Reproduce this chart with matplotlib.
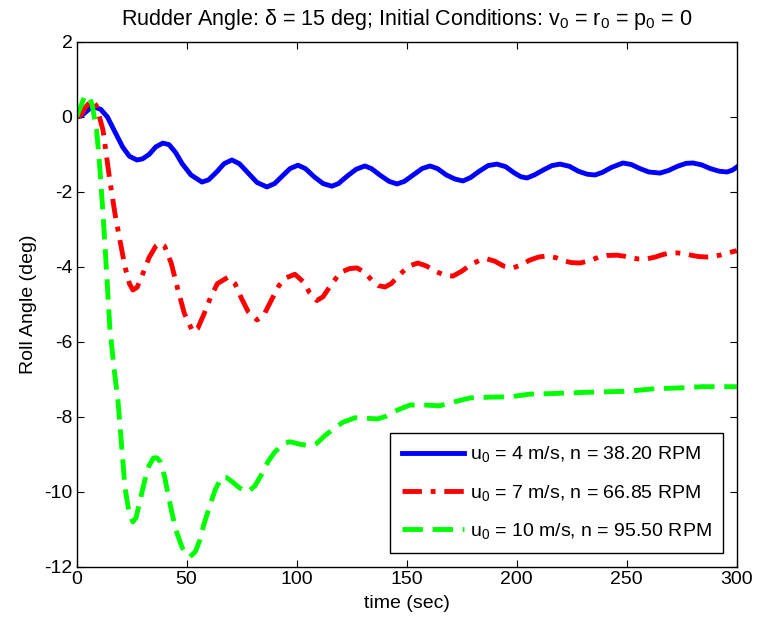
import matplotlib
matplotlib.use("Agg")
import matplotlib.pyplot as plt

plt.rcParams['font.family'] = ['Liberation Sans', 'DejaVu Sans']
plt.rcParams['mathtext.fontset'] = 'custom'
plt.rcParams['mathtext.rm'] = 'Liberation Sans'
plt.rcParams['mathtext.it'] = 'Liberation Sans:italic'
plt.rcParams['axes.unicode_minus'] = False

# u0 = 4 m/s, n = 38.20 RPM
t_4 = [0, 2, 4, 6, 8.3, 11, 14, 17, 21, 24, 27.4, 30, 33, 36, 39.2, 42, 45, 48, 52, 57,
       60, 64, 67, 70.6, 74, 78, 82, 86.5, 90, 94, 97, 100.6, 104, 108, 112, 116, 119,
       123, 127, 131, 134, 138, 142, 145.6, 149, 153, 157, 160.6, 164, 168, 172, 175.6,
       179, 183, 187, 191, 195, 199, 202, 204.7, 208, 212, 216, 219.7, 224, 228, 232,
       235.6, 239, 243, 248.3, 252, 256, 260, 265.1, 269, 273, 277, 280.1, 284, 288, 292,
       295.6, 298, 300]
roll_4 = [0, 0.02, 0.12, 0.22, 0.26, 0.2, 0.0, -0.35, -0.81, -1.05, -1.15, -1.12, -1.0,
          -0.8, -0.7, -0.74, -0.95, -1.25, -1.55, -1.74, -1.68, -1.45, -1.25, -1.15, -1.25,
          -1.5, -1.75, -1.87, -1.78, -1.55, -1.38, -1.29, -1.38, -1.6, -1.78, -1.85, -1.78,
          -1.58, -1.4, -1.31, -1.38, -1.56, -1.72, -1.79, -1.72, -1.55, -1.38, -1.31, -1.38,
          -1.55, -1.66, -1.71, -1.62, -1.45, -1.3, -1.26, -1.33, -1.5, -1.6, -1.63, -1.55,
          -1.42, -1.3, -1.26, -1.32, -1.45, -1.53, -1.55, -1.48, -1.35, -1.23, -1.27, -1.38,
          -1.47, -1.5, -1.43, -1.32, -1.24, -1.23, -1.28, -1.38, -1.45, -1.47, -1.42, -1.34]

# u0 = 7 m/s, n = 66.85 RPM
t_7 = [0, 2, 4, 6.8, 9, 12, 15.1, 17.5, 19.7, 22, 24, 25.6, 27.5, 30, 33, 36, 37.9, 40,
       43, 46, 49, 52.9, 55, 58, 61, 64, 68.8, 72, 75, 78, 82, 85, 88, 92, 95, 99.2, 103,
       106, 109.2, 112, 116, 120, 124, 127.4, 131, 134, 137, 140.1, 143, 147, 151, 155.1,
       159, 163, 167, 171, 175, 179, 183, 186.5, 190, 194, 198.3, 202, 206, 210, 213.8,
       218, 222, 225, 228.8, 233, 237, 241, 245.6, 249, 252, 255, 259.2, 263, 266, 269,
       272.9, 276, 280, 283, 286.5, 290, 293, 296, 300]
roll_7 = [0, 0.05, 0.25, 0.45, 0.3, -0.35, -1.69, -2.6, -3.29, -4.0, -4.45, -4.62, -4.55,
          -4.2, -3.75, -3.45, -3.37, -3.45, -3.9, -4.6, -5.25, -5.74, -5.65, -5.25, -4.8,
          -4.45, -4.28, -4.45, -4.85, -5.2, -5.42, -5.3, -4.95, -4.5, -4.3, -4.2, -4.4, -4.7,
          -4.9, -4.8, -4.45, -4.15, -4.05, -4.03, -4.15, -4.35, -4.5, -4.54, -4.45, -4.2,
          -3.98, -3.9, -3.98, -4.12, -4.22, -4.25, -4.12, -3.95, -3.83, -3.79, -3.85, -3.98,
          -4.03, -3.95, -3.82, -3.74, -3.71, -3.76, -3.85, -3.89, -3.9, -3.84, -3.75, -3.7,
          -3.69, -3.72, -3.76, -3.79, -3.79, -3.74, -3.68, -3.64, -3.63, -3.65, -3.7, -3.73,
          -3.74, -3.72, -3.68, -3.63, -3.57]

# u0 = 10 m/s, n = 95.50 RPM
t_10 = [0, 2, 3.5, 5.1, 7, 9.1, 10.5, 12, 13.5, 15.1, 17, 18.8, 20.5, 22, 24, 25.6, 27,
        29, 31, 33, 35, 36.5, 38, 40, 42, 45, 48, 51.5, 54, 56, 58, 61, 63, 66, 68, 71, 74,
        77.9, 81, 84, 87, 90, 94, 97, 101, 106, 109, 113, 117, 121, 126.5, 131, 137, 141,
        146, 151.5, 158, 165, 172, 178.8, 188, 197, 206, 218, 232, 251, 261.6, 275.2,
        284.3, 300]
roll_10 = [0, 0.3, 0.52, 0.58, 0.35, -0.35, -1.3, -2.57, -4.0, -5.61, -6.7, -7.56, -8.8,
           -9.9, -10.6, -10.81, -10.7, -10.2, -9.7, -9.3, -9.1, -9.1, -9.2, -9.6, -10.2,
           -11.0, -11.5, -11.74, -11.6, -11.3, -10.85, -10.3, -9.95, -9.61, -9.62, -9.75,
           -9.9, -10.01, -9.85, -9.55, -9.2, -8.95, -8.72, -8.67, -8.73, -8.78, -8.72, -8.5,
           -8.32, -8.15, -8.03, -8.04, -8.06, -7.98, -7.82, -7.69, -7.69, -7.71, -7.6, -7.5,
           -7.48, -7.47, -7.4, -7.38, -7.35, -7.32, -7.26, -7.23, -7.2, -7.2]

labels = [r'$\mathregular{u_0}$ = 4 m/s, n = 38.20 RPM',
          r'$\mathregular{u_0}$ = 7 m/s, n = 66.85 RPM',
          r'$\mathregular{u_0}$ = 10 m/s, n = 95.50 RPM']

fig = plt.figure(figsize=(7.58, 6.26), dpi=100)
ax = fig.add_axes([0.101, 0.095, 0.871, 0.838])

ax.plot(t_4, roll_4, color='#0000ff', lw=3.5, ls='-', label=labels[0])
ax.plot(t_7, roll_7, color='#ff0000', lw=3.5, ls=(0, (4, 1.8, 1, 1.8)), label=labels[1])
ax.plot(t_10, roll_10, color='#00ff00', lw=3.5, ls=(0, (4.2, 2)), label=labels[2])

ax.set_xlim(0, 300)
ax.set_ylim(-12, 2)
ax.set_xticks([0, 50, 100, 150, 200, 250, 300])
ax.set_yticks([-12, -10, -8, -6, -4, -2, 0, 2])
ax.tick_params(direction='in', top=True, right=True, length=5, labelsize=14, pad=3)
for s in ax.spines.values():
    s.set_linewidth(1.0)

ax.set_xlabel('time (sec)', fontsize=14, labelpad=5)
ax.set_ylabel('Roll Angle (deg)', fontsize=14, labelpad=5)
ax.set_title(r'Rudder Angle: δ = 15 deg; Initial Conditions: $\mathregular{v_0}$ = '
             r'$\mathregular{r_0}$ = $\mathregular{p_0}$ = 0', fontsize=15.5, pad=12)

leg = ax.legend(loc='lower right', fontsize=14, handlelength=3.2, labelspacing=0.95,
                borderaxespad=0.7, fancybox=False, framealpha=1, borderpad=0.6,
                handletextpad=0.3)
leg.get_frame().set_edgecolor('black')
leg.get_frame().set_linewidth(1.0)

fig.savefig('out.png', dpi=100)
